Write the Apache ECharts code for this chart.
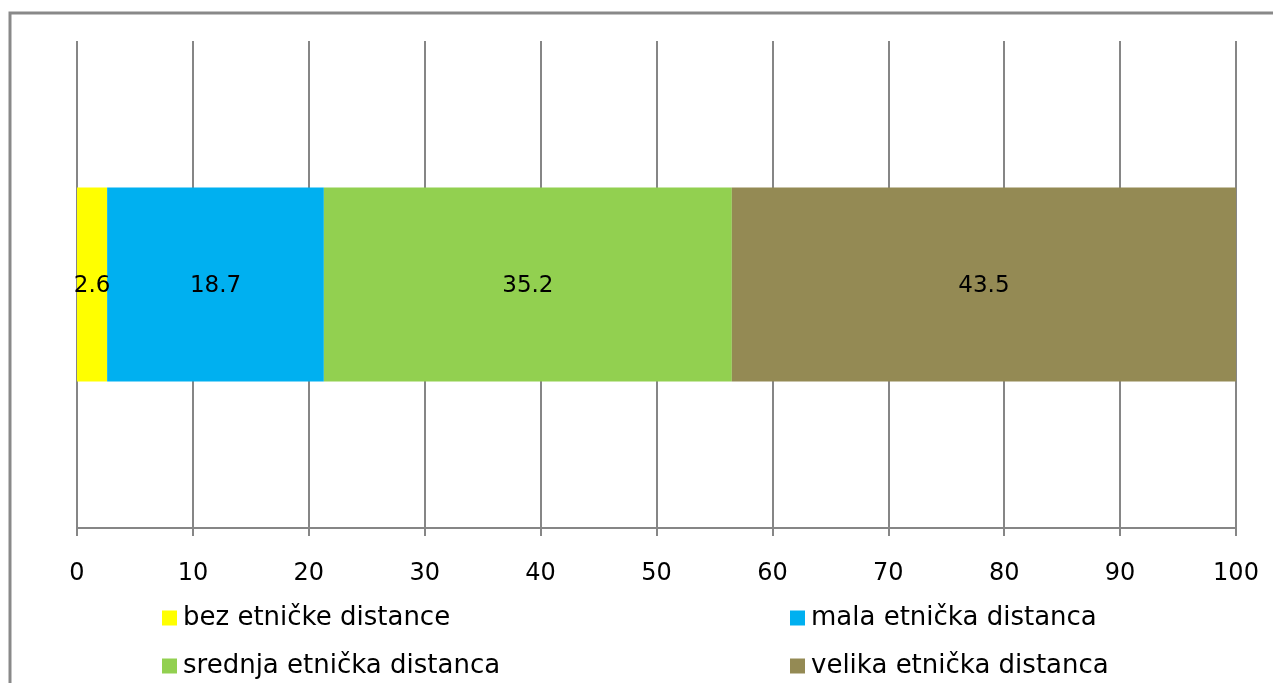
<!DOCTYPE html>
<html>
<head>
<meta charset="utf-8">
<script src="https://cdn.jsdelivr.net/npm/echarts@6/dist/echarts.min.js"></script>
<style>
html,body{margin:0;padding:0;background:#fff;}
#main{width:1273px;height:683px;}
</style>
</head>
<body>
<div id="main"></div>
<script>
const categories = ['ukupno'];
const seriesNames = ['bez etničke distance', 'mala etnička distanca', 'srednja etnička distanca', 'velika etnička distanca'];
const bezValues = [2.6];
const malaValues = [18.7];
const srednjaValues = [35.2];
const velikaValues = [43.5];
const xTicks = [0, 10, 20, 30, 40, 50, 60, 70, 80, 90, 100];

const colors = ['#FFFF00', '#00B0F0', '#92D050', '#948A54'];
const seriesData = [bezValues, malaValues, srednjaValues, velikaValues];
const FONT = 'DejaVu Sans';

const legendPos = [
  { left: 162, top: 605 },
  { left: 790, top: 605 },
  { left: 162, top: 653 },
  { left: 790, top: 653 }
];

const chart = echarts.init(document.getElementById('main'));
chart.setOption({
  animation: false,
  textStyle: { fontFamily: FONT },
  graphic: [{
    type: 'rect',
    shape: { x: 10, y: 13, width: 1300, height: 720 },
    style: { fill: 'none', stroke: '#898989', lineWidth: 3 },
    silent: true
  }],
  grid: { left: 77, right: 37, top: 41, bottom: 155 },
  xAxis: {
    type: 'value',
    min: xTicks[0],
    max: xTicks[xTicks.length - 1],
    interval: xTicks[1] - xTicks[0],
    axisLine: { show: true, lineStyle: { color: '#868686', width: 2 } },
    axisTick: { show: true, length: 8, lineStyle: { color: '#868686', width: 2 } },
    splitLine: { show: true, lineStyle: { color: '#868686', width: 2 } },
    axisLabel: { color: '#000', fontSize: 24, fontFamily: FONT, margin: 34 }
  },
  yAxis: {
    type: 'category',
    data: categories,
    axisLine: { show: false },
    axisTick: { show: false },
    axisLabel: { show: false }
  },
  legend: seriesNames.map((name, i) => ({
    orient: 'horizontal',
    left: legendPos[i].left,
    top: legendPos[i].top,
    padding: 0,
    itemWidth: 15,
    itemHeight: 15,
    icon: 'rect',
    data: [name],
    textStyle: { color: '#000', fontSize: 26, fontFamily: FONT, padding: [0, 0, 0, 1] }
  })),
  series: seriesNames.map((name, i) => ({
    name: name,
    type: 'bar',
    stack: 'total',
    barWidth: 194,
    data: seriesData[i],
    itemStyle: { color: colors[i] },
    label: {
      show: true,
      position: 'inside',
      color: '#000',
      fontSize: 23,
      fontFamily: FONT,
      offset: [0, 2],
      formatter: p => p.value.toFixed(1)
    }
  }))
});
</script>
</body>
</html>
